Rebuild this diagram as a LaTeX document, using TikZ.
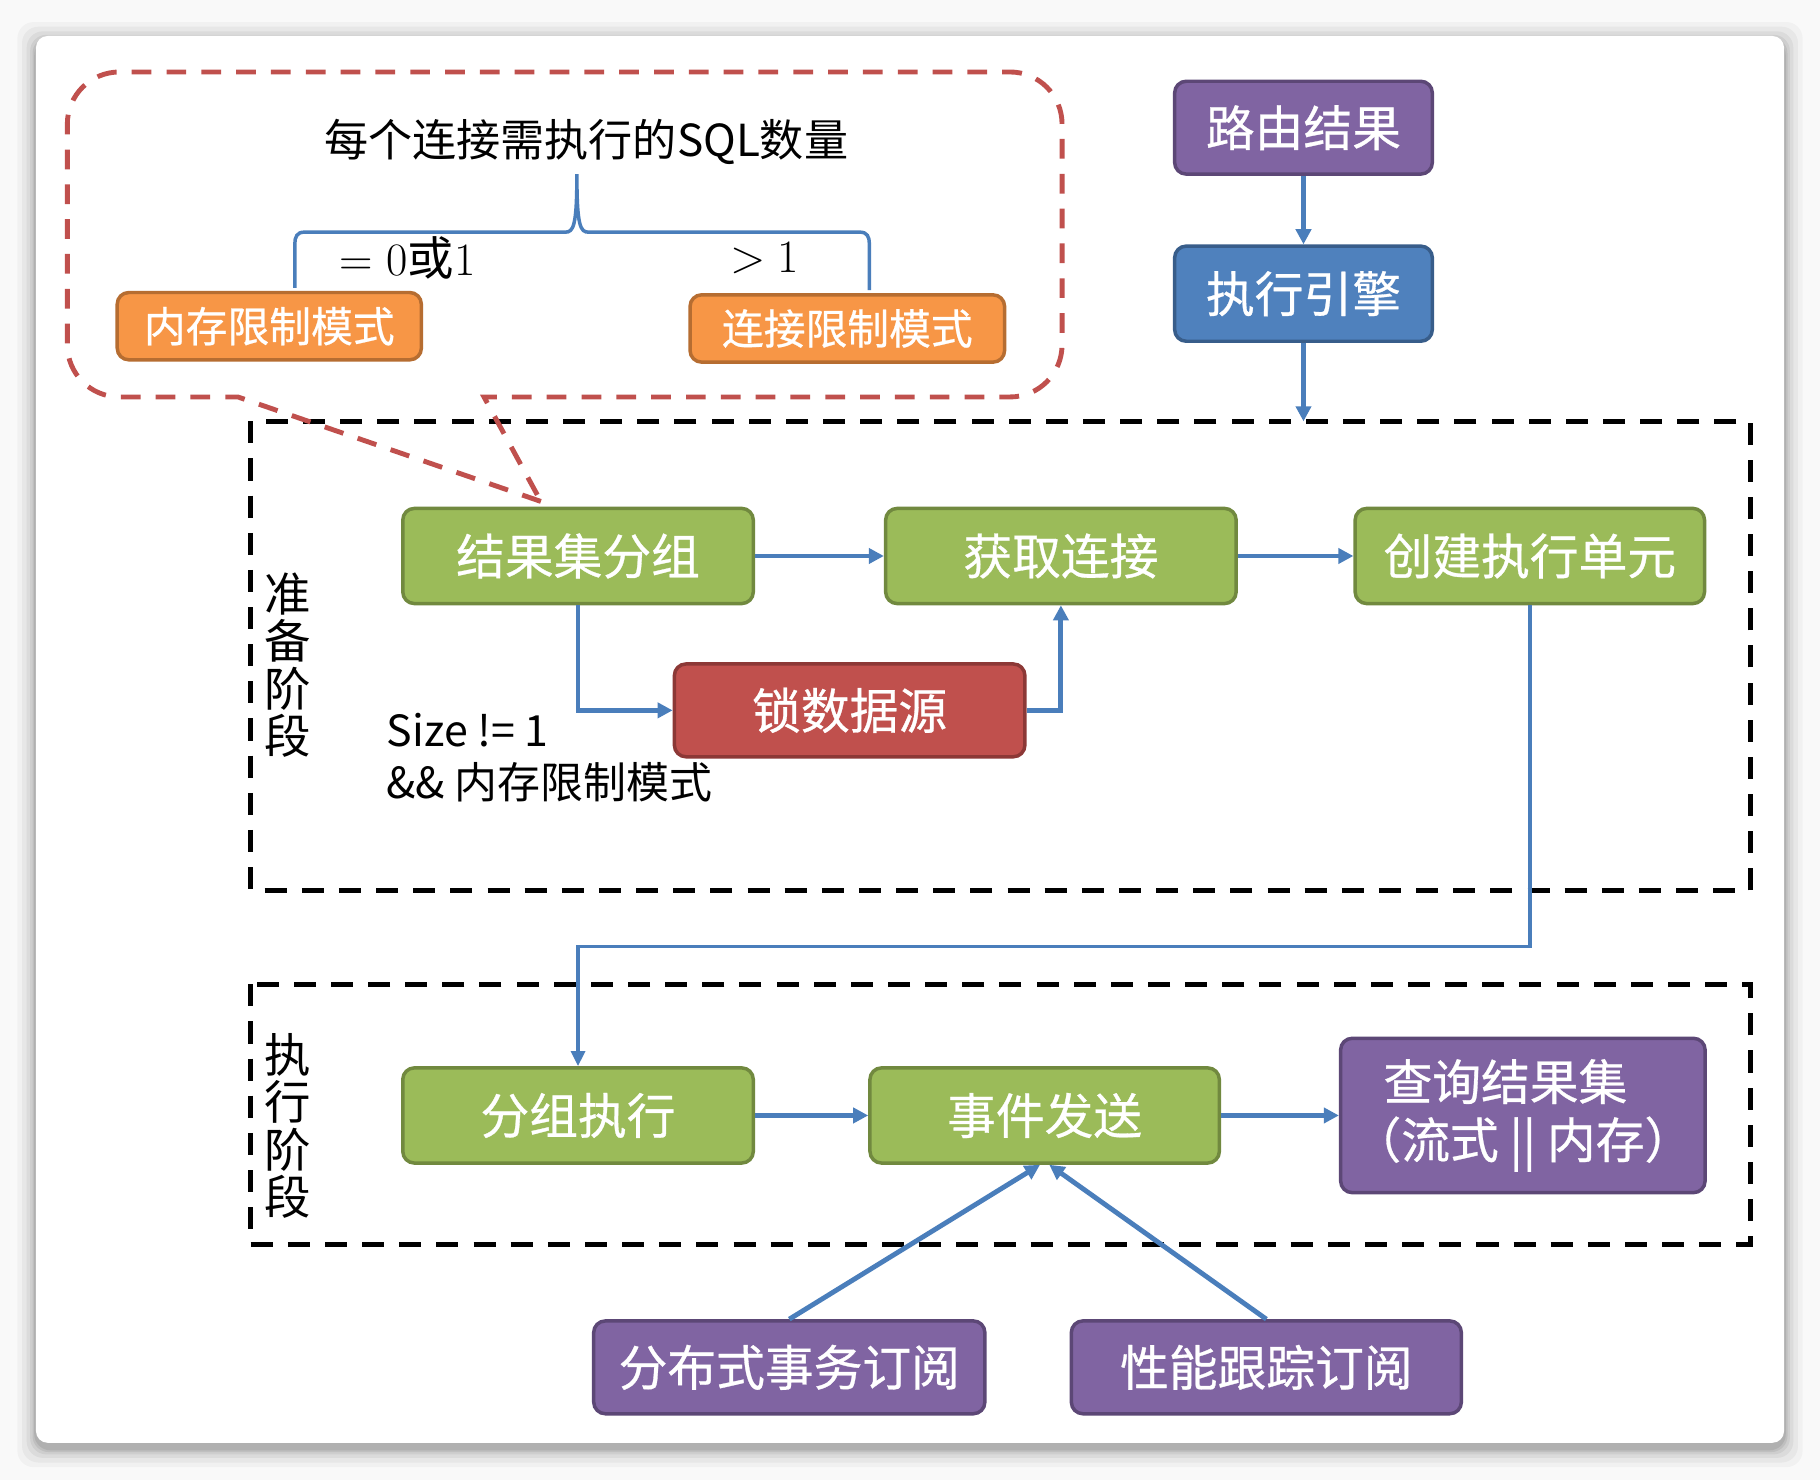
\documentclass[tikz,border=0pt]{standalone}
\usepackage{fontspec}
\setmainfont{Noto Sans CJK SC}
\newfontfamily\cjk{Noto Sans CJK SC}
\newfontfamily\cjkb{Noto Sans CJK SC}[FakeBold=0.6]
\newfontfamily\lmr{Latin Modern Roman}
\usetikzlibrary{arrows.meta}
\definecolor{grnF}{HTML}{9BBB59}
\definecolor{grnD}{HTML}{71893F}
\definecolor{redF}{HTML}{C0504D}
\definecolor{redD}{HTML}{8C3836}
\definecolor{purF}{HTML}{8064A2}
\definecolor{purD}{HTML}{5C4776}
\definecolor{bluF}{HTML}{4F81BD}
\definecolor{bluD}{HTML}{385D8A}
\definecolor{orgF}{HTML}{F79646}
\definecolor{orgD}{HTML}{B66D31}
\definecolor{arrc}{HTML}{4A7EBB}
\definecolor{callc}{HTML}{C0504D}
\begin{document}
\begin{tikzpicture}[x=1pt,y=-1pt,
  box/.style={rounded corners=10pt, line width=3pt, text=white, inner sep=0pt,
    font=\cjkb\fontsize{42pt}{50pt}\selectfont, minimum height=82pt, align=center},
  gbox/.style={box, fill=grnF, draw=grnD},
  rbox/.style={box, fill=redF, draw=redD},
  pbox/.style={box, fill=purF, draw=purD},
  bbox/.style={box, fill=bluF, draw=bluD},
  obox/.style={box, fill=orgF, draw=orgD, font=\cjkb\fontsize{36pt}{44pt}\selectfont, minimum height=58pt},
  arr/.style={draw=arrc, line width=4.2pt, -{Triangle[length=13pt,width=13pt]}},
  thinarr/.style={draw=arrc, line width=3pt, -{Triangle[length=13pt,width=12pt]}},
  stage/.style={draw=black, line width=4.2pt, dash pattern=on 19pt off 13pt},
  callout/.style={draw=callc, line width=4.2pt, dash pattern=on 17pt off 13pt},
  stagelbl/.style={font=\cjk\fontsize{40pt}{41pt}\selectfont, align=center, inner sep=0pt},
  plain/.style={inner sep=0pt}
]
\useasboundingbox (0,0) rectangle (1568,1275);
% background and card with shadow
\fill[gray!5] (0,0) rectangle (1568,1275);
\foreach \d/\o in {16/0.03,12/0.04,8/0.05,5/0.06,3/0.07,1.5/0.08}{
  \fill[black, opacity=\o, rounded corners=14pt] (31-\d,31-\d+4) rectangle (1537+\d,1243+\d+5);
}
\fill[white, rounded corners=10pt] (31,31) rectangle (1537,1243);

% stage boxes
\draw[stage] (216,363) rectangle (1508,767);
\draw[stage] (216,848) rectangle (1508,1072);
\coordinate (prepTop) at (1123,363);
\node[stagelbl] (prepLbl) at (248,573) {准\\备\\阶\\段};
\node[stagelbl] (execLbl) at (248,970) {执\\行\\阶\\段};

% callout
\draw[callout] (466,432) -- (205,342) -- (103,342) .. controls (78,342) and (58,322) .. (58,297)
  -- (58,107) .. controls (58,82) and (78,62) .. (103,62) -- (870,62)
  .. controls (895,62) and (915,82) .. (915,107) -- (915,297)
  .. controls (915,322) and (895,342) .. (870,342) -- (417,342) -- cycle;
\node[plain, font=\cjk\fontsize{38pt}{44pt}\selectfont] (title) at (505,122) {每个连接需执行的SQL数量};
\draw[draw=arrc, line width=3pt] (254,248) -- (254,210) .. controls (254,204) and (256,200) .. (262,200)
  -- (487,200) .. controls (494,200) and (497,195) .. (497,150)
  .. controls (497,195) and (500,200) .. (507,200) -- (741,200)
  .. controls (747,200) and (749,204) .. (749,210) -- (749,250);
\node[plain, font=\lmr\fontsize{40pt}{44pt}\selectfont] (eqlbl) at (351,222) {=\hspace{12pt}0{\cjk 或}1};
\node[plain, font=\lmr\fontsize{40pt}{44pt}\selectfont] (gtlbl) at (659,222) {>\hspace{10pt}1};
\node[obox, minimum width=262pt] (mem) at (232,281) {内存限制模式};
\node[obox, minimum width=271pt] (conn) at (730,283) {连接限制模式};

% top boxes
\node[pbox, minimum width=222pt, minimum height=80pt] (route) at (1123,110) {路由结果};
\node[bbox, minimum width=222pt] (engine) at (1123,253) {执行引擎};

% preparation stage
\node[gbox, minimum width=302pt] (group) at (498,479) {结果集分组};
\node[gbox, minimum width=302pt] (getconn) at (914,479) {获取连接};
\node[gbox, minimum width=301pt] (create) at (1318,479) {创建执行单元};
\node[rbox, minimum width=302pt, minimum height=80pt] (lock) at (732,612) {锁数据源};
\node[plain, anchor=north west, align=left, font=\cjk\fontsize{37pt}{45pt}\selectfont] (cond) at (333,614) {Size != 1\\\&\& 内存限制模式};

% execution stage
\node[gbox, minimum width=302pt] (gexec) at (498,961) {分组执行};
\node[gbox, minimum width=301pt] (event) at (900,961) {事件发送};
\node[pbox, minimum width=314pt, minimum height=133pt] (query) at (1312,961) {\makebox[0pt]{\hspace*{-30pt}查询结果集}\\（流式 || 内存）};
\node[pbox, minimum width=337pt, minimum height=80pt] (dist) at (680,1178) {分布式事务订阅};
\node[pbox, minimum width=336pt, minimum height=80pt] (perf) at (1091,1178) {性能跟踪订阅};

% connectors
\draw[arr] (route) -- (engine);
\draw[arr] (engine) -- (prepTop);
\draw[arr] (group) -- (getconn);
\draw[arr] (getconn) -- (create);
\draw[arr] (group.south) |- (lock.west);
\draw[arr] (lock.east) -| (getconn.south);
\draw[thinarr] (create.south) -- ++(0,294) -| (gexec.north);
\draw[arr] (gexec) -- (event);
\draw[arr] (event) -- (query);
\draw[arr] (dist.north) -- ([xshift=-4pt]event.south);
\draw[arr] (perf.north) -- ([xshift=4pt]event.south);
\end{tikzpicture}
\end{document}
